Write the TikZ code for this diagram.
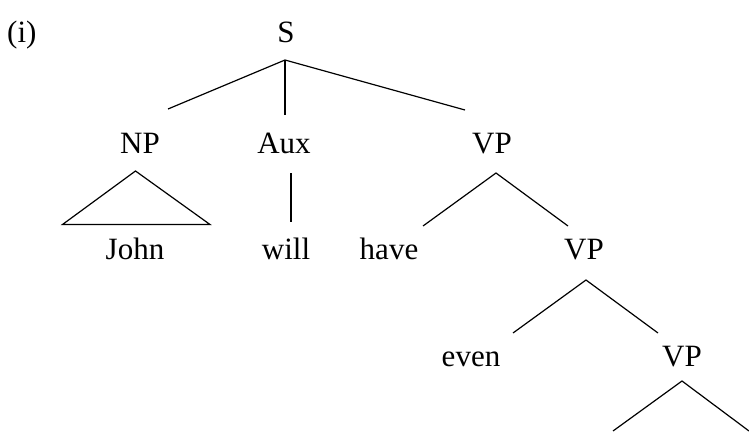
\documentclass[tikz,border=0pt]{standalone}
\usepackage{fontspec}
\setmainfont{Liberation Serif}
\begin{document}
\begin{tikzpicture}[x=1pt,y=-1pt,
  lbl/.style={anchor=base,inner sep=0pt,font=\fontsize{31}{36}\selectfont},
  edge/.style={line width=1.2pt,line join=miter}]
\useasboundingbox (0,0) rectangle (749,431);
\node[lbl,anchor=base west] (num) at (7,42) {(i)};
\node[lbl] (S) at (286,42) {S};
\node[lbl] (NP) at (140,153) {NP};
\node[lbl] (Aux) at (284,153) {Aux};
\node[lbl] (VPa) at (492,153) {VP};
\node[lbl] (John) at (135,259) {John};
\node[lbl] (will) at (286,259) {will};
\node[lbl] (have) at (389,259) {have};
\node[lbl] (VPb) at (584,259) {VP};
\node[lbl] (even) at (471,366) {even};
\node[lbl] (VPc) at (682,366) {VP};
\coordinate (l3) at (613,431);
\coordinate (r3) at (749,431);
% S
\draw[edge] ([shift={(-1,18)}]S.base) -- ([shift={(28,-44)}]NP.base);
\draw[edge] ([shift={(-1,18)}]S.base) -- ([shift={(1,-38)}]Aux.base);
\draw[edge] ([shift={(-1,18)}]S.base) -- ([shift={(-27,-43)}]VPa.base);
% NP triangle
\draw[edge] ([shift={(-4.5,18)}]NP.base) -- ([shift={(-72.5,-34.5)}]John.base)
  -- ([shift={(75,-34.5)}]John.base) -- cycle;
% Aux
\draw[edge] ([shift={(7,20)}]Aux.base) -- ([shift={(5,-37)}]will.base);
% VP1
\draw[edge] ([shift={(34,-33)}]have.base) -- ([shift={(4,20)}]VPa.base) -- ([shift={(-16,-33)}]VPb.base);
% VP2
\draw[edge] ([shift={(42,-33)}]even.base) -- ([shift={(2,21)}]VPb.base) -- ([shift={(-24,-33)}]VPc.base);
% VP3
\draw[edge] (l3) -- ([shift={(0,15)}]VPc.base) -- (r3);
\end{tikzpicture}
\end{document}
